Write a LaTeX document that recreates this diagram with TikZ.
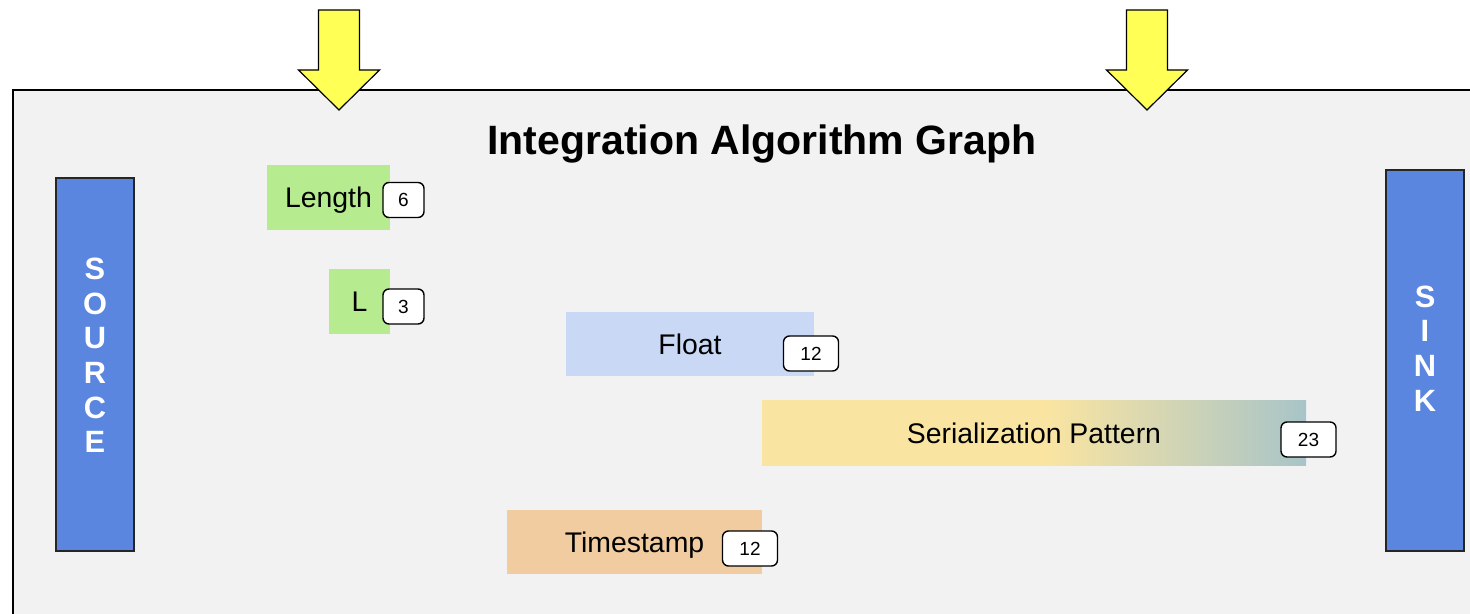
\documentclass[tikz,border=0pt]{standalone}
\usepackage{fontspec}
\setmainfont{Liberation Sans}

\definecolor{panelgray}{HTML}{F2F2F2}
\definecolor{pinyellow}{HTML}{FFFF55}
\definecolor{endblue}{HTML}{5A86E0}
\definecolor{lengreen}{HTML}{B6EC8F}
\definecolor{floatblue}{HTML}{C9D8F4}
\definecolor{seryellow}{HTML}{F9E4A2}
\definecolor{serteal}{HTML}{A8C4C8}
\definecolor{stamporange}{HTML}{F1CCA0}

% flat yellow, then fading to teal over the right half
\pgfdeclarehorizontalshading{serfade}{100bp}{color(0bp)=(seryellow); color(51.5bp)=(seryellow);
  color(75bp)=(serteal); color(100bp)=(serteal)}

\begin{document}
\begin{tikzpicture}[x=0.5pt,y=-0.5pt,
  end node/.style={rectangle,draw=black!85,line width=0.6pt,fill=endblue,inner sep=0pt,minimum width=39pt},
  end label/.style={text=white,font=\bfseries\fontsize{15.4pt}{17.3pt}\selectfont,align=center,inner sep=0pt},
  bar node/.style={rectangle,inner sep=0pt,minimum height=32.25pt,text height=10.2pt,text depth=0pt,
    font=\fontsize{14.2pt}{16pt}\selectfont},
  count node/.style={rectangle,rounded corners=3pt,draw=black,line width=0.7pt,fill=white,
    inner sep=0pt,minimum width=20.5pt,minimum height=17.5pt,text height=6.8pt,text depth=0pt,
    font=\fontsize{9.5pt}{11pt}\selectfont}]

  \useasboundingbox (0,0) rectangle (1470,614);
  \clip (-10,-10) rectangle (1490,634);

  % panel
  \fill[panelgray] (13,90) rectangle (1500,650);
  \draw[line width=0.75pt] (1500,90) -- (13,90) -- (13,650);

  % pins
  \foreach \cx in {339,1147}
    \draw[fill=pinyellow,line width=0.6pt,line join=miter]
      (\cx-20.5,10) -- (\cx+20.5,10) -- (\cx+20.5,70) -- (\cx+40.5,70) -- (\cx,110)
      -- (\cx-40.5,70) -- (\cx-20.5,70) -- cycle;

  \node[font=\bfseries\fontsize{20.5pt}{24pt}\selectfont] (title) at (762,144) {Integration Algorithm Graph};

  % source and sink
  \node[end node,minimum height=186.5pt] (source) at (95,364.5) {};
  \node[end label] (sourceT) at (95,355.5) {S\\O\\U\\R\\C\\E};
  \node[end node,minimum height=190.5pt] (sink) at (1425,360.5) {};
  \node[end label] (sinkT) at (1425,348.5) {S\\I\\N\\K};

  % bars
  \node[bar node,fill=lengreen,minimum width=61.5pt] (len) at (328.5,197.5) {Length};
  \node[bar node,fill=lengreen,minimum width=30.5pt] (l) at (359.5,301.5) {L};
  \node[bar node,fill=floatblue,minimum width=124pt] (float) at (690,344) {Float};
  \node[bar node,shading=serfade,minimum width=272pt] (ser) at (1034,433) {Serialization Pattern};
  \node[bar node,fill=stamporange,minimum width=127.5pt] (stamp) at (634.5,542) {Timestamp};

  % counts
  \node[count node] (lenN) at (403.5,200) {6};
  \node[count node] (lN) at (403.5,306.5) {3};
  \node[count node,minimum width=27.5pt] (floatN) at (811,353.5) {12};
  \node[count node,minimum width=27.5pt] (serN) at (1308.5,439.5) {23};
  \node[count node,minimum width=27.5pt] (stampN) at (750,548.5) {12};
\end{tikzpicture}
\end{document}
